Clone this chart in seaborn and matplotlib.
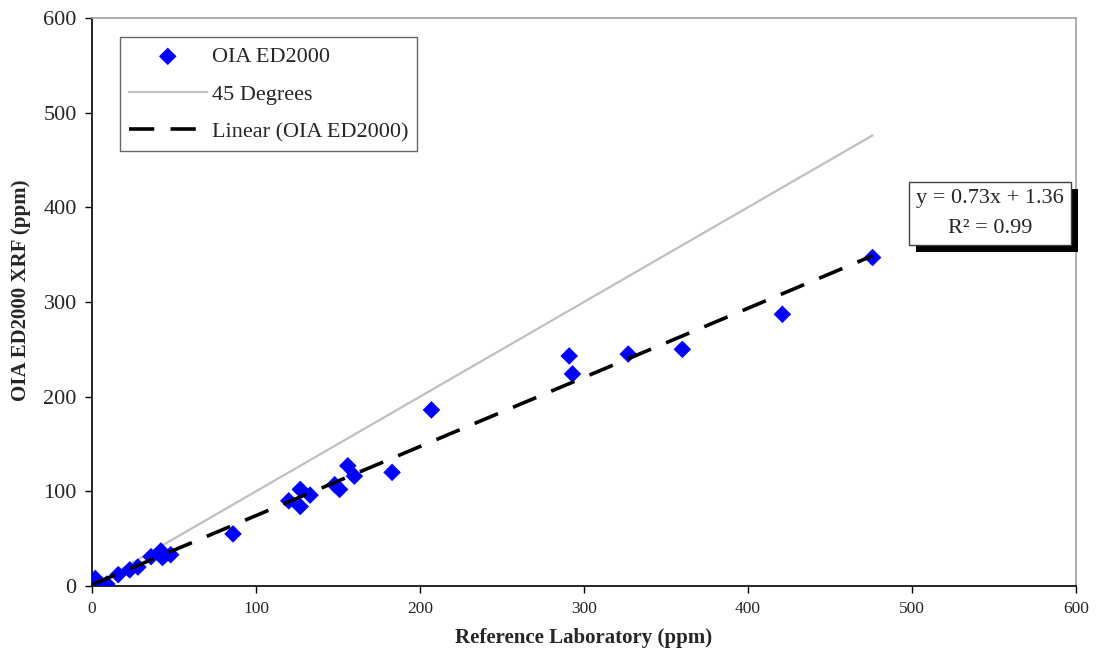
import numpy as np
import pandas as pd
import matplotlib
matplotlib.use("Agg")
import matplotlib.pyplot as plt
import matplotlib.patheffects as pe
import seaborn as sns

# Data
ref_lab = [476, 421, 360, 327, 291, 293, 207, 183, 160, 156, 151, 148, 133, 127, 127, 120,
           86, 48, 43, 42, 36, 28, 23, 16, 9, 5, 3, 2, 1, 0]
ed2000 = [347, 287, 250, 245, 243, 224, 186, 120, 116, 127, 102, 107, 96, 102, 84, 90,
          55, 33, 30, 37, 31, 20, 17, 12, 2, 0, 5, 8, 1, 3]
slope = 0.73
intercept = 1.36
r_squared = 0.99
x_ticks = [0, 100, 200, 300, 400, 500, 600]
y_ticks = [0, 100, 200, 300, 400, 500, 600]

df = pd.DataFrame({"x": ref_lab, "y": ed2000})
xmax = max(ref_lab)
line45 = pd.DataFrame({"x": [0, xmax], "y": [0, xmax]})
fit = pd.DataFrame({"x": [0, xmax], "y": [intercept, slope * xmax + intercept]})

sns.set_style("white")
plt.rcParams["font.family"] = ["Liberation Serif", "DejaVu Serif"]

fig = plt.figure(figsize=(10.99, 6.56), dpi=100)
ax = fig.add_axes([0.0837, 0.1067, 0.8953, 0.8659])

sns.scatterplot(data=df, x="x", y="y", ax=ax, marker="D", color="#0000ff",
                s=80, edgecolor="none", label="OIA ED2000", zorder=3)
sns.lineplot(data=line45, x="x", y="y", ax=ax, color="#c0c0c0", linewidth=1.6,
             label="45 Degrees", zorder=2)
sns.lineplot(data=fit, x="x", y="y", ax=ax, color="black", linewidth=2.6,
             label="Linear (OIA ED2000)", zorder=4)
ax.lines[-1].set_dashes((7, 4.5))

ax.set_xlim(0, 600)
ax.set_ylim(0, 600)
ax.set_xticks(x_ticks)
ax.set_yticks(y_ticks)
ax.tick_params(axis="x", labelsize=12.5, length=5, width=1, direction="out", color="black", pad=6)
ax.tick_params(axis="y", labelsize=16, length=5, width=1, direction="out", color="black", pad=6)
ax.tick_params(bottom=True, left=True)

for s in ["left", "bottom"]:
    ax.spines[s].set_color("black")
    ax.spines[s].set_linewidth(1.2)
for s in ["top", "right"]:
    ax.spines[s].set_color("#a0a0a0")
    ax.spines[s].set_linewidth(1.2)

ax.set_xlabel("Reference Laboratory (ppm)", fontsize=15, fontweight="bold", labelpad=8)
ax.set_ylabel("OIA ED2000 XRF (ppm)", fontsize=15, fontweight="bold", labelpad=6)
ax.yaxis.set_label_coords(-0.062, 0.52)

leg = ax.legend(loc="upper left", bbox_to_anchor=(0.028, 0.966), fontsize=16,
                frameon=True, fancybox=False, edgecolor="#404040", borderpad=0.42,
                labelspacing=0.76, handlelength=3.5, handletextpad=0.22, borderaxespad=0)
leg.get_frame().set_linewidth(1.0)

eq = ax.text(0.9875, 0.656, f"y = {slope:.2f}x + {intercept:.2f}\nR\u00b2 = {r_squared:.2f}",
             transform=ax.transAxes, ha="right", va="center", fontsize=16,
             multialignment="center", linespacing=1.8, zorder=6,
             bbox=dict(boxstyle="square,pad=0.32", facecolor="white", edgecolor="#404040", linewidth=1))
eq.get_bbox_patch().set_path_effects([
    pe.SimplePatchShadow(offset=(5, -5), shadow_rgbFace="black", alpha=1.0),
    pe.Normal()])
eq.set_clip_on(False)

fig.savefig("out.png", dpi=100)
